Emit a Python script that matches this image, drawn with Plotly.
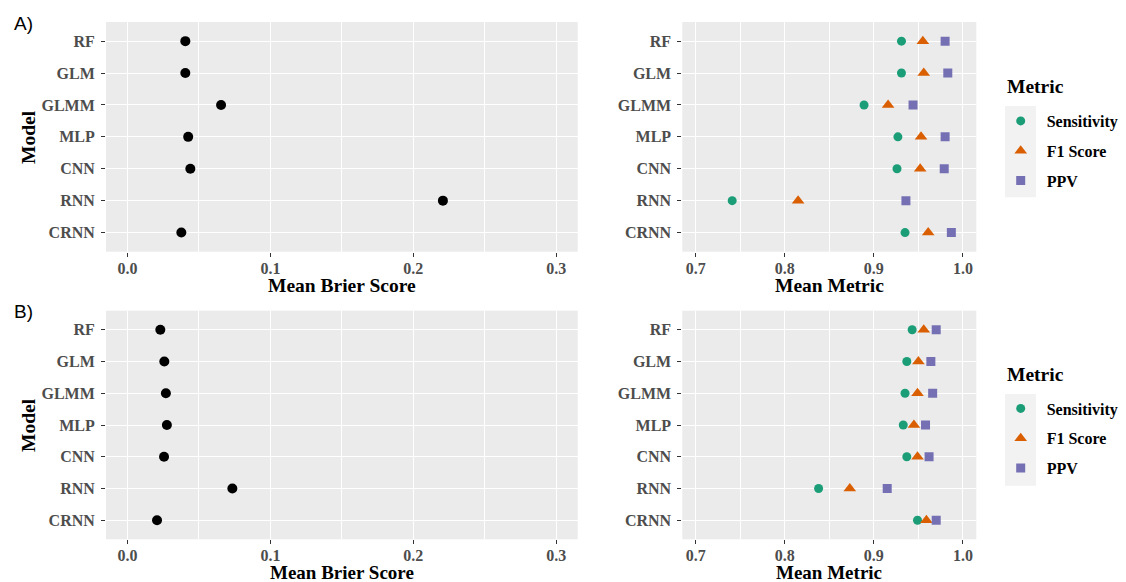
import plotly.graph_objects as go

# ---------------- data ----------------
models = ["RF", "GLM", "GLMM", "MLP", "CNN", "RNN", "CRNN"]
metric_names = ["Sensitivity", "F1 Score", "PPV"]

brier_a = [0.0405, 0.0405, 0.0655, 0.0425, 0.0440, 0.2207, 0.0377]
brier_b = [0.0230, 0.0258, 0.0269, 0.0276, 0.0256, 0.0734, 0.0207]

sens_a = [0.931, 0.931, 0.889, 0.927, 0.926, 0.741, 0.935]
f1_a = [0.955, 0.956, 0.916, 0.953, 0.952, 0.815, 0.961]
ppv_a = [0.980, 0.983, 0.944, 0.980, 0.979, 0.936, 0.987]

sens_b = [0.943, 0.937, 0.935, 0.933, 0.937, 0.838, 0.949]
f1_b = [0.956, 0.950, 0.949, 0.945, 0.949, 0.873, 0.959]
ppv_b = [0.970, 0.964, 0.966, 0.958, 0.962, 0.915, 0.970]

brier_ticks = [0.0, 0.1, 0.2, 0.3]
metric_ticks = [0.7, 0.8, 0.9, 1.0]

# ---------------- styling ----------------
W, H = 1126, 582
SERIF = "Liberation Serif"
colors = {"Sensitivity": "#1B9E77", "F1 Score": "#D95F02", "PPV": "#7570B3"}
symbols = {"Sensitivity": "circle", "F1 Score": "triangle-up", "PPV": "square"}
sizes = {"Sensitivity": 9, "F1 Score": 11, "PPV": 9}

def px_x(p):
    return p / W

def px_y(p):
    return 1 - p / H

left_dom = [px_x(106), px_x(577.7)]
right_dom = [px_x(682.3), px_x(976.3)]
top_dom = [px_y(251.7), px_y(22)]
bot_dom = [px_y(539.3), px_y(310.7)]

fig = go.Figure()

# Brier panels
fig.add_trace(go.Scatter(x=brier_a, y=models, mode="markers", xaxis="x", yaxis="y",
                         marker=dict(color="black", size=10), showlegend=False))
fig.add_trace(go.Scatter(x=brier_b, y=models, mode="markers", xaxis="x3", yaxis="y3",
                         marker=dict(color="black", size=10), showlegend=False))

# Metric panels
for vals, ax, ay, leg in [((sens_a, f1_a, ppv_a), "x2", "y2", "legend"),
                          ((sens_b, f1_b, ppv_b), "x4", "y4", "legend2")]:
    for name, v in zip(metric_names, vals):
        fig.add_trace(go.Scatter(
            x=v, y=models, mode="markers", name=name, xaxis=ax, yaxis=ay,
            legend=leg, legendgroup=leg + name,
            marker=dict(color=colors[name], symbol=symbols[name], size=sizes[name],
                        line=dict(width=0))))

tickfont = dict(family=SERIF, size=16, color="#4D4D4D", weight="bold")

def xaxis(domain, anchor, rng, ticks, standoff):
    return dict(domain=domain, anchor=anchor, range=rng, tickvals=ticks,
                ticktext=[f"{t:.1f}" for t in ticks],
                showgrid=True, gridcolor="white", gridwidth=1.2,
                minor=dict(dtick=0.05, tick0=0, showgrid=True, gridcolor="white",
                           gridwidth=0.5, ticks=""),
                ticks="outside", ticklen=4, tickwidth=1, tickcolor="#333333",
                tickfont=tickfont, ticklabelstandoff=standoff,
                zeroline=False, showline=False, fixedrange=True)

def yaxis(domain, anchor):
    return dict(domain=domain, anchor=anchor, type="category", categoryorder="array",
                categoryarray=models, range=[len(models) - 0.4, -0.6],
                showgrid=True, gridcolor="white", gridwidth=1.2,
                ticks="outside", ticklen=4, tickwidth=1, tickcolor="#333333",
                tickfont=tickfont, ticklabelstandoff=3,
                zeroline=False, showline=False, fixedrange=True)

brier_rng = [-0.015, 0.315]
metric_rng = [0.685, 1.015]

legfont = dict(family=SERIF, size=16, color="black", weight="bold")
fig.update_layout(
    width=W, height=H, margin=dict(l=0, r=0, t=0, b=0),
    paper_bgcolor="white", plot_bgcolor="#EBEBEB",
    xaxis=xaxis(left_dom, "y", brier_rng, brier_ticks, -2),
    yaxis=yaxis(top_dom, "x"),
    xaxis2=xaxis(right_dom, "y2", metric_rng, metric_ticks, -2),
    yaxis2=yaxis(top_dom, "x2"),
    xaxis3=xaxis(left_dom, "y3", brier_rng, brier_ticks, -3),
    yaxis3=yaxis(bot_dom, "x3"),
    xaxis4=xaxis(right_dom, "y4", metric_rng, metric_ticks, -3),
    yaxis4=yaxis(bot_dom, "x4"),
    legend=dict(x=px_x(994.7), y=px_y(104), xanchor="left", yanchor="top",
                bgcolor="rgba(0,0,0,0)", itemwidth=42, tracegroupgap=6, font=legfont),
    legend2=dict(x=px_x(994.7), y=px_y(391.5), xanchor="left", yanchor="top",
                 bgcolor="rgba(0,0,0,0)", itemwidth=42, tracegroupgap=6, font=legfont),
)

# legend key backgrounds
for y0, y1 in [(106, 197.3), (394, 485.7)]:
    fig.add_shape(type="rect", xref="paper", yref="paper",
                  x0=px_x(1005), x1=px_x(1036), y0=px_y(y1), y1=px_y(y0),
                  fillcolor="#F2F2F2", line=dict(width=0), layer="below")

annots = []
for cy_title, tsize, pcy, lab, ly in [(285, 19.5, 137, "A)", 24), (572.5, 19, 425, "B)", 311)]:
    titlefont = dict(family=SERIF, size=tsize, color="black", weight="bold")
    annots.append(dict(text="Mean Brier Score", x=px_x((106 + 577.7) / 2), y=px_y(cy_title),
                       xref="paper", yref="paper", showarrow=False, font=titlefont,
                       xanchor="center", yanchor="middle"))
    annots.append(dict(text="Mean Metric", x=px_x((682.3 + 976.3) / 2), y=px_y(cy_title),
                       xref="paper", yref="paper", showarrow=False, font=titlefont,
                       xanchor="center", yanchor="middle"))
    annots.append(dict(text="Model", x=px_x(28), y=px_y(pcy), textangle=-90,
                       xref="paper", yref="paper", showarrow=False,
                       font=dict(family=SERIF, size=19.5, color="black", weight="bold"),
                       xanchor="center", yanchor="middle"))
    annots.append(dict(text=lab, x=px_x(12), y=px_y(ly), xref="paper", yref="paper",
                       showarrow=False, xanchor="left", yanchor="middle",
                       font=dict(family="Liberation Sans", size=19, color="black")))
legtitle = dict(family=SERIF, size=19.5, color="black", weight="bold")
annots.append(dict(text="Metric", x=px_x(1005), y=px_y(86.7), xref="paper", yref="paper",
                   showarrow=False, xanchor="left", yanchor="middle", font=legtitle))
annots.append(dict(text="Metric", x=px_x(1005), y=px_y(374), xref="paper", yref="paper",
                   showarrow=False, xanchor="left", yanchor="middle", font=legtitle))
fig.update_layout(annotations=annots)

fig.write_html("out.html", config={"displayModeBar": False},
               post_script="document.body.style.margin='0';document.body.style.overflow='hidden';")
